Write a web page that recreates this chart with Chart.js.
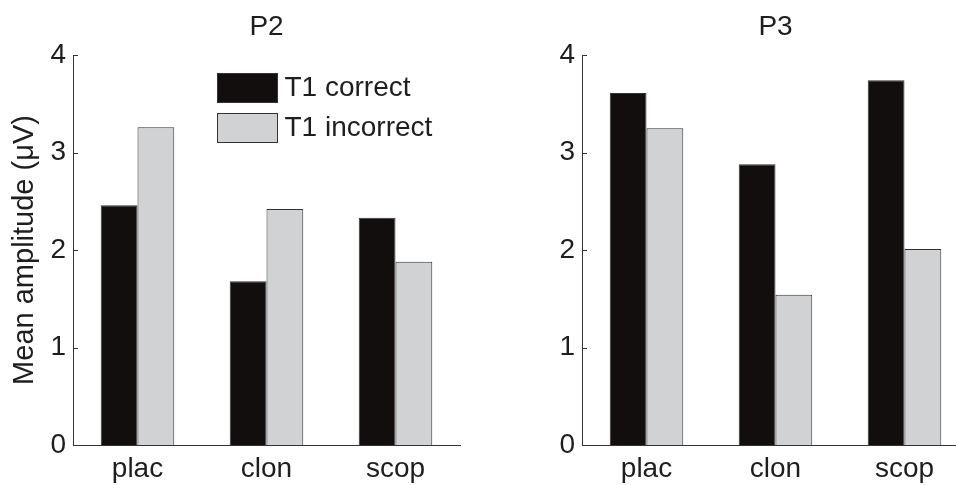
<!DOCTYPE html>
<html>
<head>
<meta charset="utf-8">
<script src="https://cdn.jsdelivr.net/npm/chart.js@4"></script>
<style>
  html, body { margin: 0; padding: 0; background: #fff; overflow: hidden; }
  #wrap { position: relative; width: 956px; height: 485px; overflow: hidden; }
  .panel { position: absolute; top: 0; height: 485px; }
  #leftPanel { left: 0; width: 480px; }
  #rightPanel { left: 480px; width: 500px; }
</style>
</head>
<body>
<div id="wrap">
  <div class="panel" id="leftPanel"><canvas id="p2Chart"></canvas></div>
  <div class="panel" id="rightPanel"><canvas id="p3Chart"></canvas></div>
</div>
<script>
// conditions and mean amplitudes (µV)
const drugs = ['plac', 'clon', 'scop'];
const seriesNames = ['T1 correct', 'T1 incorrect'];
const p2Correct = [2.46, 1.68, 2.33];
const p2Incorrect = [3.26, 2.42, 1.88];
const p3Correct = [3.61, 2.88, 3.74];
const p3Incorrect = [3.25, 1.54, 2.01];
const yTicks = [0, 1, 2, 3, 4];

const inkColor = '#1e1e1e';
const axisColor = '#333333';
const darkFill = '#120e0d';
const lightFill = '#d1d2d4';

Chart.defaults.font.family = '"Liberation Sans", Arial, Helvetica, sans-serif';
Chart.defaults.color = inkColor;

// small tick marks pointing into the plot, like matlab axes
const innerTicks = {
  id: 'innerTicks',
  afterDraw(chart) {
    const ctx = chart.ctx;
    const y = chart.scales.y;
    const left = chart.chartArea.left;
    ctx.save();
    ctx.strokeStyle = axisColor;
    ctx.lineWidth = 1;
    y.ticks.forEach(t => {
      const py = Math.round(y.getPixelForValue(t.value)) + 0.5;
      ctx.beginPath();
      ctx.moveTo(left, py);
      ctx.lineTo(left + 5, py);
      ctx.stroke();
    });
    ctx.restore();
  }
};

// legend boxes drawn inside the plot area
const boxLegend = {
  id: 'boxLegend',
  afterDraw(chart, args, opts) {
    if (!opts.show) return;
    const ctx = chart.ctx;
    const area = chart.chartArea;
    ctx.save();
    ctx.font = '28px "Liberation Sans", Arial, sans-serif';
    ctx.textBaseline = 'middle';
    ctx.textAlign = 'left';
    chart.data.datasets.forEach((ds, i) => {
      const bx = Math.round(area.left + opts.x) + 0.5;
      const by = Math.round(area.top + opts.y + i * 39.6) + 0.5;
      ctx.fillStyle = ds.backgroundColor;
      ctx.fillRect(bx, by, 60, 29);
      ctx.strokeStyle = axisColor;
      ctx.lineWidth = 1;
      ctx.strokeRect(bx, by, 60, 29);
      ctx.fillStyle = inkColor;
      ctx.fillText(ds.label, bx + 67, by + 15);
    });
    ctx.restore();
  }
};

function makeChart(canvasId, title, correct, incorrect, opts) {
  return new Chart(document.getElementById(canvasId), {
    type: 'bar',
    data: {
      labels: drugs,
      datasets: [
        {
          label: seriesNames[0],
          data: correct,
          backgroundColor: darkFill,
          borderColor: axisColor,
          borderWidth: 1
        },
        {
          label: seriesNames[1],
          data: incorrect,
          backgroundColor: lightFill,
          borderColor: axisColor,
          borderWidth: 1
        }
      ]
    },
    options: {
      responsive: true,
      maintainAspectRatio: false,
      animation: false,
      events: [],
      categoryPercentage: 0.57,
      barPercentage: 1.0,
      layout: { padding: { left: 0, right: opts.padRight, top: 0, bottom: 0 } },
      scales: {
        x: {
          grid: { display: false, drawTicks: false },
          border: { display: true, color: axisColor, width: 1 },
          ticks: { font: { size: 28 }, padding: 7, color: inkColor },
          afterFit(scale) { scale.height = 40; }
        },
        y: {
          min: 0,
          max: 4,
          afterBuildTicks(scale) { scale.ticks = yTicks.map(v => ({ value: v })); },
          grid: { display: false, drawTicks: false },
          border: { display: true, color: axisColor, width: 1 },
          ticks: { font: { size: 28 }, padding: 7, color: inkColor },
          title: {
            display: opts.yTitle,
            text: 'Mean amplitude (\u03bcV)',
            font: { size: 29 },
            color: inkColor,
            padding: { top: 8, bottom: 0 }
          },
          afterFit(scale) { scale.width = opts.axisWidth; }
        }
      },
      plugins: {
        legend: { display: false },
        tooltip: { enabled: false },
        title: {
          display: true,
          text: title,
          fullSize: false,
          color: inkColor,
          font: { size: 28, weight: 'normal' },
          padding: { top: 10.5, bottom: 10.9 }
        },
        boxLegend: { show: opts.legend, x: 144, y: 18 }
      }
    },
    plugins: [innerTicks, boxLegend]
  });
}

makeChart('p2Chart', 'P2', p2Correct, p2Incorrect,
  { axisWidth: 73, padRight: 20, yTitle: true, legend: true });
makeChart('p3Chart', 'P3', p3Correct, p3Incorrect,
  { axisWidth: 102, padRight: 11, yTitle: false, legend: false });
</script>
</body>
</html>
